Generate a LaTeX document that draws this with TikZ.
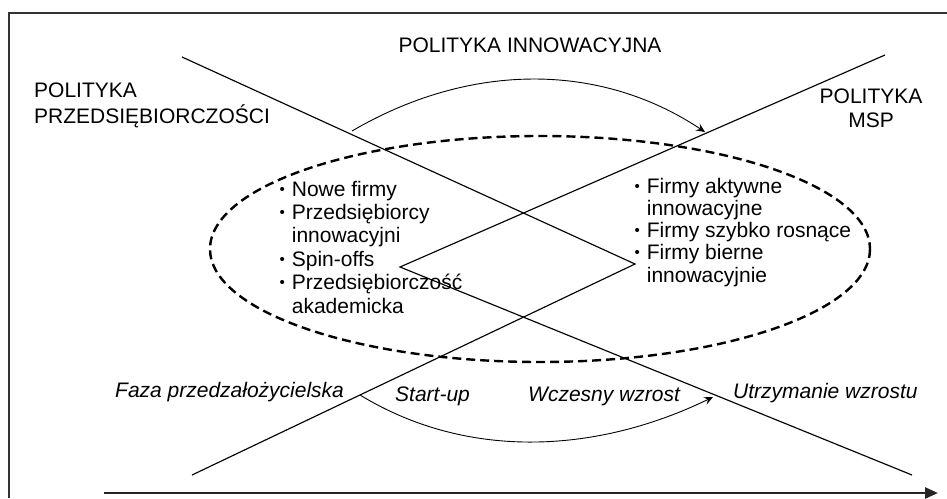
\documentclass[tikz,border=0pt]{standalone}
\usepackage{fontspec}
\setmainfont{Liberation Sans}
\usetikzlibrary{arrows.meta}
\newcommand\itemdot{\makebox[0.35em]{\raisebox{0.09em}{\scalebox{0.72}{•}}}}
\begin{document}
\begin{tikzpicture}[x=1pt,y=-1pt,
  frameline/.style={draw=black!80,line width=1.8pt},
  policyline/.style={draw=black,line width=1.15pt},
  flow/.style={draw=black,line width=0.9pt,-{Stealth[length=9pt,width=8pt,inset=3.5pt]}},
  timeline/.style={draw=black!85,line width=2.6pt,-{Triangle[length=13pt,width=11pt]}},
  groupline/.style={draw=black,line width=2.4pt,dash pattern=on 9pt off 5pt},
  headtxt/.style={inner sep=0pt,font=\fontsize{21}{25}\selectfont},
  listtxt/.style={inner sep=0pt,anchor=base west},
  phasetxt/.style={inner sep=0pt,anchor=base west,font=\fontsize{21}{25}\selectfont\itshape},
]
\useasboundingbox (0,0) rectangle (947,498);

% frame (open on the right and at the bottom)
\draw[frameline] (947,13) -- (9,13) -- (9,498);

% end points and vertices of the policy lines
\coordinate (a0) at (182,57);
\coordinate (b0) at (192,475);
\coordinate (vr) at (635,264);
\coordinate (c0) at (885,55);
\coordinate (d0) at (912,475);
\coordinate (vl) at (400,267);

\draw[policyline] (a0) -- (vr) -- (b0);
\draw[policyline] (c0) -- (vl) -- (d0);

% dashed group of firm types
\draw[groupline] (540,249) ellipse [x radius=330, y radius=113];

% time axis
\coordinate (t0) at (104,493);
\coordinate (t1) at (938,493);
\draw[timeline] (t0) -- (t1);

% flow arrows
\coordinate (u0) at (352,131);
\coordinate (u1) at (705,132);
\draw[flow] (u0) .. controls (470,62) and (600,62) .. (u1);
\coordinate (l0) at (360,395);
\coordinate (l1) at (713,397);
\draw[flow] (l0) .. controls (470,462) and (600,452) .. (l1);

% headings
\node[headtxt,anchor=base] (innov) at (530,52) {POLITYKA INNOWACYJNA};
\node[headtxt,anchor=base west] (przeds) at (34,97)
  {\begin{tabular}[t]{@{}l@{}}POLITYKA\\PRZEDSIĘBIORCZOŚCI\end{tabular}};
\node[headtxt,anchor=base,font=\fontsize{21}{24}\selectfont] (msp) at (871,103)
  {\begin{tabular}[t]{@{}c@{}}POLITYKA\\MSP\end{tabular}};

% firm lists
\node[listtxt,font=\fontsize{21}{23.4}\selectfont] (listl) at (278.5,196)
  {\begin{tabular}[t]{@{}l@{}}
    \itemdot\ Nowe firmy\\
    \itemdot\ Przedsiębiorcy\\
    \phantom{\itemdot\ }innowacyjni\\
    \itemdot\ Spin-offs\\
    \itemdot\ Przedsiębiorczość\\
    \phantom{\itemdot\ }akademicka
  \end{tabular}};
\node[listtxt,font=\fontsize{21}{22.25}\selectfont] (listr) at (633.5,193)
  {\begin{tabular}[t]{@{}l@{}}
    \itemdot\ Firmy aktywne\\
    \phantom{\itemdot\ }innowacyjne\\
    \itemdot\ Firmy szybko rosnące\\
    \itemdot\ Firmy bierne\\
    \phantom{\itemdot\ }innowacyjnie
  \end{tabular}};

% phases
\node[phasetxt] (faza) at (115,397) {Faza przedzałożycielska};
\node[phasetxt] (start) at (395,401) {Start-up};
\node[phasetxt] (wczes) at (528,401) {Wczesny wzrost};
\node[phasetxt] (utrzym) at (733,398) {Utrzymanie wzrostu};
\end{tikzpicture}
\end{document}
